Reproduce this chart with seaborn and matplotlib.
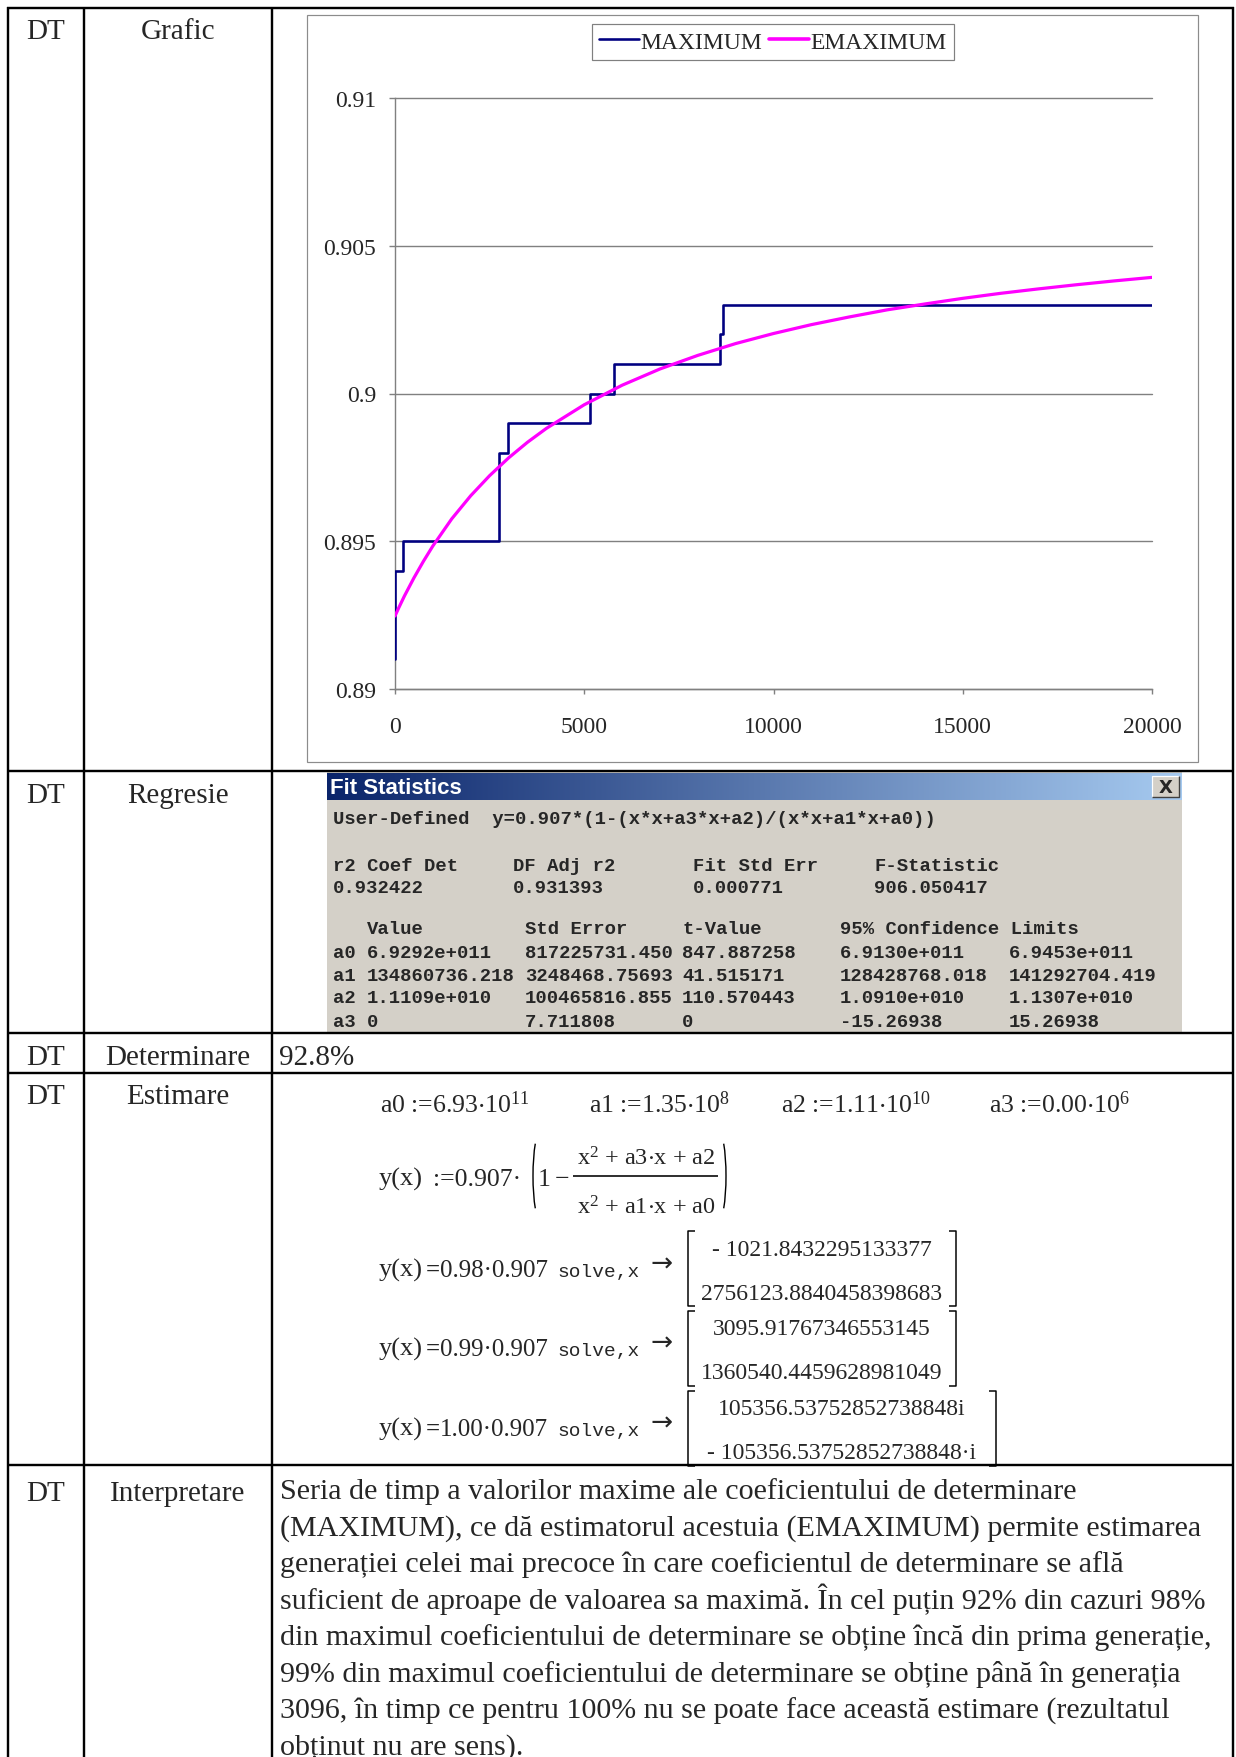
import numpy as np
import pandas as pd
import seaborn as sns
import matplotlib
matplotlib.use("Agg")
import matplotlib.pyplot as plt
from matplotlib.lines import Line2D
from matplotlib.patches import Rectangle, Arc

# ---------------- data ----------------
max_x = [0, 5, 10, 215, 2740, 2755, 2985, 5150, 5790, 8590, 8660, 20000]
max_y = [0.891, 0.892, 0.894, 0.895, 0.897, 0.898, 0.899, 0.900, 0.901, 0.902, 0.903, 0.903]

em_x = [0, 100, 250, 500, 750, 1000, 1500, 2000, 2500, 3000, 3500, 4000, 5000, 6000,
        7000, 8000, 9000, 10000, 11000, 12000, 13000, 14000, 15000, 16000, 17000,
        18000, 19000, 20000]
em_y = [0.89247, 0.89275, 0.89315, 0.89376, 0.89432, 0.89484, 0.89576, 0.89654, 0.89722,
        0.89782, 0.89835, 0.89882, 0.89962, 0.90028, 0.90083, 0.90129, 0.90169, 0.90203,
        0.90233, 0.90259, 0.90283, 0.90303, 0.90322, 0.90339, 0.90354, 0.90368, 0.90381,
        0.90393]

series_names = ["MAXIMUM", "EMAXIMUM"]
y_ticks = [0.89, 0.895, 0.9, 0.905, 0.91]
y_tick_labels = ["0.89", "0.895", "0.9", "0.905", "0.91"]
x_ticks = [0, 5000, 10000, 15000, 20000]
x_tick_labels = ["0", "5000", "10000", "15000", "20000"]

row_code = ["DT", "DT", "DT", "DT", "DT"]
row_names = ["Grafic", "Regresie", "Determinare", "Estimare", "Interpretare"]
determinare = "92.8%"

fit_header1 = ["r2 Coef Det", "DF Adj r2", "Fit Std Err", "F-Statistic"]
fit_values1 = ["0.932422", "0.931393", "0.000771", "906.050417"]
fit_header2 = ["Value", "Std Error", "t-Value", "95% Confidence Limits"]
fit_params = ["a0", "a1", "a2", "a3"]
fit_value = ["6.9292e+011", "134860736.218", "1.1109e+010", "0"]
fit_stderr = ["817225731.450", "3248468.75693", "100465816.855", "7.711808"]
fit_tvalue = ["847.887258", "41.515171", "110.570443", "0"]
fit_low = ["6.9130e+011", "128428768.018", "1.0910e+010", "-15.26938"]
fit_high = ["6.9453e+011", "141292704.419", "1.1307e+010", "15.26938"]
fit_formula = "User-Defined  y=0.907*(1-(x*x+a3*x+a2)/(x*x+a1*x+a0))"

solve_levels = ["0.98", "0.99", "1.00"]
solve_roots = [["- 1021.8432295133377", "2756123.8840458398683"],
               ["3095.91767346553145", "1360540.4459628981049"],
               ["105356.53752852738848i", "- 105356.53752852738848\u00b7i"]]

interp_lines = [
    "Seria de timp a valorilor maxime ale coeficientului de determinare",
    "(MAXIMUM), ce dă estimatorul acestuia (EMAXIMUM) permite estimarea",
    "generației celei mai precoce în care coeficientul de determinare se află",
    "suficient de aproape de valoarea sa maximă. În cel puțin 92% din cazuri 98%",
    "din maximul coeficientului de determinare se obține încă din prima generație,",
    "99% din maximul coeficientului de determinare se obține până în generația",
    "3096, în timp ce pentru 100% nu se poate face această estimare (rezultatul",
    "obținut nu are sens).",
]

# ---------------- style ----------------
sns.set_style("white")
plt.rcParams["font.family"] = ["Liberation Serif", "DejaVu Serif"]
plt.rcParams["mathtext.fontset"] = "custom"
plt.rcParams["mathtext.rm"] = "Liberation Serif"
plt.rcParams["mathtext.it"] = "Liberation Serif"
plt.rcParams["mathtext.default"] = "regular"

W, H, DPI = 1236, 1758, 100
PX = 72.0 / DPI  # points per pixel

fig = plt.figure(figsize=(W / DPI, H / DPI), dpi=DPI)
fig.patch.set_facecolor("white")
bg = fig.add_axes([0, 0, 1, 1])
bg.set_xlim(0, W)
bg.set_ylim(H, 0)
bg.axis("off")


def T(x, y, s, size, **kw):
    kw.setdefault("va", "baseline")
    return bg.text(x, y, s, fontsize=size, **kw)


def L(xs, ys, lw=1.0, color="black", **kw):
    bg.plot(xs, ys, color=color, lw=lw * PX, solid_capstyle="butt", **kw)


# ---------------- table grid ----------------
TLW = 2.4
for x in [8, 84, 272, 1233]:
    L([x, x], [8, H], TLW)
for y in [9, 772, 1034, 1074, 1466]:
    L([7, 1234], [y, y], TLW)

label_fs = 21
row_base = [39, 803, 1065, 1104, 1501]
for code, name, yb in zip(row_code, row_names, row_base):
    T(46, yb, code, label_fs, ha="center")
    T(178, yb, name, label_fs, ha="center")

T(279, 1065, determinare, label_fs)

# ---------------- chart ----------------
bg.add_patch(Rectangle((307, 16), 1198 - 307, 763 - 16, fill=False,
                       edgecolor="#8c8c8c", lw=1.2 * PX))

ax = fig.add_axes([395 / W, 1 - 690 / H, (1152 - 395) / W, (690 - 99) / H])
df_max = pd.DataFrame({"x": max_x, "y": max_y})
df_em = pd.DataFrame({"x": em_x, "y": em_y})
sns.lineplot(data=df_max, x="x", y="y", ax=ax, color="#000080", lw=2.6 * PX,
             drawstyle="steps-post", zorder=3)
sns.lineplot(data=df_em, x="x", y="y", ax=ax, color="#FF00FF", lw=3.2 * PX, zorder=4)
ax.set_xlim(0, 20000)
ax.set_ylim(0.89, 0.91)
ax.set_xlabel("")
ax.set_ylabel("")
ax.set_facecolor("none")
ax.set_yticks(y_ticks)
ax.set_yticklabels(y_tick_labels)
ax.set_xticks(x_ticks)
ax.set_xticklabels(x_tick_labels)
ax.yaxis.grid(True, color="#808080", lw=1.4 * PX)
ax.xaxis.grid(False)
for gl in ax.get_ygridlines():
    gl.set_clip_on(False)
for s in ["top", "right"]:
    ax.spines[s].set_visible(False)
for s in ["left", "bottom"]:
    ax.spines[s].set_color("#808080")
    ax.spines[s].set_linewidth(1.4 * PX)
ax.tick_params(axis="y", direction="out", length=6 * PX, width=1.4 * PX, color="#808080",
               labelsize=17, pad=13 * PX, left=True)
ax.tick_params(axis="x", direction="out", length=5 * PX, width=1.4 * PX, color="#808080",
               labelsize=17, pad=22 * PX, bottom=True)

handles = [Line2D([], [], color="#000080", lw=2.6 * PX),
           Line2D([], [], color="#FF00FF", lw=3.6 * PX)]
leg = fig.legend(handles, series_names, loc="upper left",
                 bbox_to_anchor=(592 / W, 1 - 25 / H), ncol=2, frameon=True,
                 fancybox=False, edgecolor="#808080", framealpha=1, fontsize=17,
                 handlelength=1.7, handletextpad=0.05, columnspacing=0.3,
                 borderpad=0.3, borderaxespad=0)
leg.get_frame().set_linewidth(1.2 * PX)

# ---------------- Fit statistics window ----------------
bg.add_patch(Rectangle((327, 773), 1182 - 327, 1033 - 773, facecolor="#D4D0C8",
                       edgecolor="none", zorder=1))
c1 = np.array([0x0A, 0x24, 0x6A]) / 255.0
c2 = np.array([0xA6, 0xCA, 0xF0]) / 255.0
t = np.linspace(0, 1, 256)[None, :, None]
grad = c1[None, None, :] * (1 - t) + c2[None, None, :] * t
bg.imshow(grad, extent=(327, 1182, 801, 774), aspect="auto", zorder=2,
          interpolation="bilinear")
bg.set_xlim(0, W)
bg.set_ylim(H, 0)
bg.text(330, 789, "Fit Statistics", fontsize=16, color="white", fontweight="bold",
        family=["Liberation Sans", "DejaVu Sans"], va="center", ha="left", zorder=3)
bg.add_patch(Rectangle((1152, 777), 27, 21, facecolor="#D4D0C8", edgecolor="none", zorder=3))
L([1152, 1152, 1179], [798, 777, 777], 1.2, color="white", zorder=4)
L([1152, 1179, 1179], [798, 798, 777], 1.4, color="#404040", zorder=4)
bg.text(1165.5, 788, "X", fontsize=13, fontweight="bold", family="DejaVu Sans",
        ha="center", va="center", zorder=5)

mono = dict(family=["Liberation Mono", "DejaVu Sans Mono"], fontweight="bold", zorder=3)
mfs = 13.6
T(333, 824, fit_formula, mfs, **mono)
for xx, h, v in zip([333, 513, 693, 874], fit_header1, fit_values1):
    T(xx, 871, h, mfs, **mono)
    T(xx, 893, v, mfs, **mono)
for xx, h in zip([367, 525, 682, 840], fit_header2):
    T(xx, 934, h, mfs, **mono)
for i, yb in enumerate([958, 981, 1003, 1027]):
    T(333, yb, fit_params[i], mfs, **mono)
    T(367, yb, fit_value[i], mfs, **mono)
    T(525, yb, fit_stderr[i], mfs, **mono)
    T(682, yb, fit_tvalue[i], mfs, **mono)
    T(840, yb, fit_low[i], mfs, **mono)
    T(1009, yb, fit_high[i], mfs, **mono)

# ---------------- Mathcad block ----------------
dfs = 18.5
T(380, 1113, r"a0 :=6.93$\cdot$10$^{11}$", dfs)
T(589, 1113, r"a1 :=1.35$\cdot$10$^{8}$", dfs)
T(781, 1113, r"a2 :=1.11$\cdot$10$^{10}$", dfs)
T(989, 1113, r"a3 :=0.00$\cdot$10$^{6}$", dfs)

T(379, 1186, "y(x)", 19)
T(433, 1186, ":=0.907\u00b7", 18.5)
bg.add_patch(Arc((541, 1177), 16, 92, theta1=100, theta2=260, lw=1.4 * PX, color="black"))
bg.add_patch(Arc((718, 1177), 16, 92, theta1=-80, theta2=80, lw=1.4 * PX, color="black"))
T(538, 1186, "1", 18.5)
T(555, 1186, "\u2212", 18.5)
T(646, 1166, r"x$^{2}$ + a3$\cdot$x + a2", 17.5, ha="center")
T(646, 1215, r"x$^{2}$ + a1$\cdot$x + a0", 17.5, ha="center")
L([573, 718], [1177, 1177], 1.6)

sfs = 17
row_y = [1277, 1356, 1436]
br_top = [1232, 1312, 1392]
br_right = [956, 956, 996]
val_base = [(1256, 1300), (1335, 1379), (1415, 1459)]
for k in range(3):
    yb = row_y[k]
    T(379, yb, "y(x)", 19)
    T(426, yb, "=", 18, fontweight="bold")
    T(440, yb, solve_levels[k] + "\u00b70.907", 18)
    T(557, yb, "solve,x", 14, family=["Liberation Mono", "DejaVu Sans Mono"])
    T(651, yb - 5, "\u2192", 19, family="DejaVu Sans")
    y0, y1 = br_top[k], br_top[k] + 75
    xl, xr = 688, br_right[k]
    L([xl + 7, xl, xl, xl + 7], [y0, y0, y1, y1], 1.5)
    L([xr - 7, xr, xr, xr - 7], [y0, y0, y1, y1], 1.5)
    xc = (xl + xr) / 2
    T(xc, val_base[k][0], solve_roots[k][0], sfs, ha="center")
    T(xc, val_base[k][1], solve_roots[k][1], sfs, ha="center")

# ---------------- interpretation text ----------------
ifs = 21.6
for line, yb in zip(interp_lines, [1499, 1536, 1572, 1609, 1645, 1682, 1719, 1755]):
    T(280, yb, line, ifs)

fig.savefig("out.png", dpi=DPI)
